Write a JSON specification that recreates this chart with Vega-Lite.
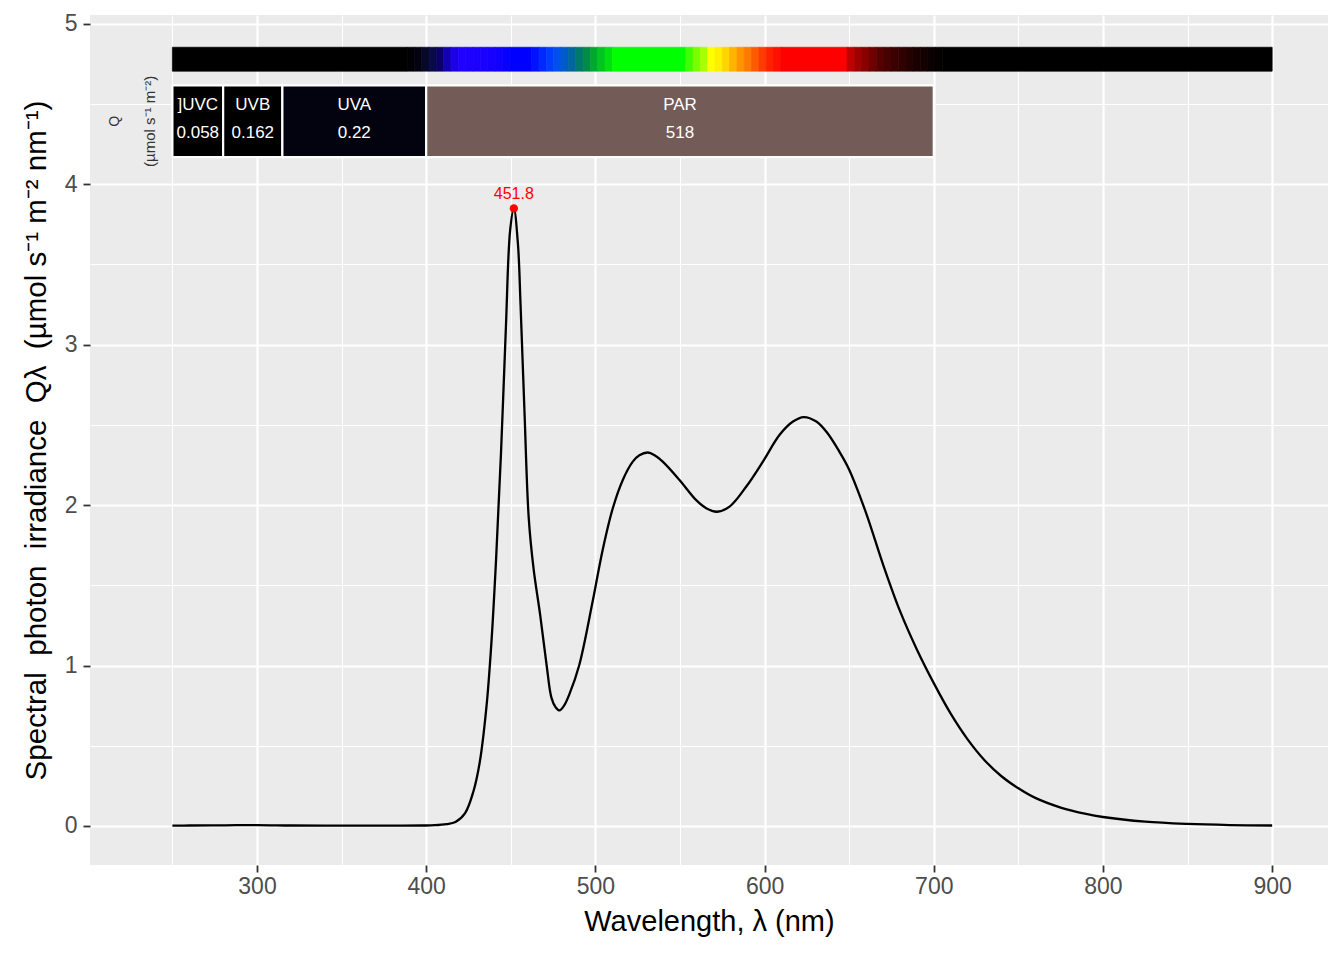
{
  "$schema": "https://vega.github.io/schema/vega-lite/v6.json",
  "width": 1238,
  "height": 850,
  "autosize": "none",
  "padding": {"left": 90, "top": 15, "right": 16, "bottom": 95},
  "background": "white",
  "view": {"fill": "#EBEBEB", "stroke": null},
  "config": {
    "font": "Liberation Sans",
    "axis": {
      "domain": false,
      "gridColor": "white",
      "labelColor": "#4D4D4D",
      "labelFontSize": 23,
      "labelFont": "Liberation Sans",
      "tickColor": "#333333",
      "tickSize": 7,
      "tickWidth": 1.8,
      "titleColor": "black",
      "titleFontWeight": "normal",
      "titleFontSize": 28,
      "titleFont": "Liberation Sans",
      "labelOverlap": false,
      "labelFlush": false
    }
  },
  "datasets": {
    "spectrum": [
      {"wl": 250, "q": 0.002}, {"wl": 260, "q": 0.003}, {"wl": 280, "q": 0.004},
      {"wl": 300, "q": 0.006}, {"wl": 320, "q": 0.003}, {"wl": 340, "q": 0.002},
      {"wl": 360, "q": 0.002}, {"wl": 380, "q": 0.002}, {"wl": 398, "q": 0.003},
      {"wl": 405, "q": 0.005}, {"wl": 412, "q": 0.012}, {"wl": 417.3, "q": 0.025},
      {"wl": 423, "q": 0.08}, {"wl": 427.9, "q": 0.215}, {"wl": 431.7, "q": 0.4},
      {"wl": 435.6, "q": 0.74}, {"wl": 438.5, "q": 1.135}, {"wl": 441.3, "q": 1.66},
      {"wl": 444.2, "q": 2.32}, {"wl": 447.1, "q": 3.105}, {"wl": 449.6, "q": 3.71},
      {"wl": 451.8, "q": 3.848}, {"wl": 454.2, "q": 3.63}, {"wl": 455.8, "q": 3.24},
      {"wl": 458.1, "q": 2.58}, {"wl": 460.6, "q": 1.92}, {"wl": 463.5, "q": 1.6},
      {"wl": 467.3, "q": 1.32}, {"wl": 471.2, "q": 1.0}, {"wl": 474, "q": 0.8},
      {"wl": 476.5, "q": 0.74}, {"wl": 478.8, "q": 0.72}, {"wl": 481.5, "q": 0.75},
      {"wl": 484.6, "q": 0.82}, {"wl": 490.4, "q": 1.0}, {"wl": 498.4, "q": 1.4},
      {"wl": 504.3, "q": 1.72}, {"wl": 510.3, "q": 1.98}, {"wl": 516.2, "q": 2.156},
      {"wl": 522.1, "q": 2.27}, {"wl": 526, "q": 2.31}, {"wl": 531, "q": 2.327},
      {"wl": 535, "q": 2.31}, {"wl": 539.8, "q": 2.27}, {"wl": 549.7, "q": 2.156},
      {"wl": 559.6, "q": 2.03}, {"wl": 565.5, "q": 1.98}, {"wl": 571.8, "q": 1.958},
      {"wl": 579.3, "q": 1.99}, {"wl": 589.2, "q": 2.115}, {"wl": 599, "q": 2.27},
      {"wl": 608.9, "q": 2.4375}, {"wl": 616.8, "q": 2.52}, {"wl": 623.1, "q": 2.548},
      {"wl": 630.6, "q": 2.52}, {"wl": 637, "q": 2.45}, {"wl": 644.1, "q": 2.334},
      {"wl": 650, "q": 2.22}, {"wl": 660, "q": 1.95}, {"wl": 670, "q": 1.63},
      {"wl": 680, "q": 1.34}, {"wl": 690, "q": 1.1}, {"wl": 700, "q": 0.89},
      {"wl": 710, "q": 0.7}, {"wl": 720, "q": 0.54}, {"wl": 730, "q": 0.41},
      {"wl": 740, "q": 0.31}, {"wl": 750, "q": 0.235}, {"wl": 760, "q": 0.175},
      {"wl": 775, "q": 0.115}, {"wl": 790, "q": 0.075}, {"wl": 800, "q": 0.056},
      {"wl": 825, "q": 0.027}, {"wl": 850, "q": 0.013}, {"wl": 875, "q": 0.006},
      {"wl": 900, "q": 0.003}
    ],
    "peak": [{"wl": 451.8, "q": 3.848, "label": "451.8"}],
    "bands": [
      {"band": "]UVC", "w1": 250, "w2": 280, "mid": 265, "Q": "0.058"},
      {"band": "UVB", "w1": 280, "w2": 315, "mid": 297.5, "Q": "0.162"},
      {"band": "UVA", "w1": 315, "w2": 400, "mid": 357.5, "Q": "0.22"},
      {"band": "PAR", "w1": 400, "w2": 700, "mid": 550, "Q": "518"}
    ],
    "colourbar": [
      {"w1": 250, "w2": 388.7}, {"w1": 388.7, "w2": 393.0}, {"w1": 393.0, "w2": 397.3},
      {"w1": 397.3, "w2": 401.7}, {"w1": 401.7, "w2": 406.0}, {"w1": 406.0, "w2": 410.3},
      {"w1": 410.3, "w2": 414.7}, {"w1": 414.7, "w2": 419.0}, {"w1": 419.0, "w2": 423.3},
      {"w1": 423.3, "w2": 427.7}, {"w1": 427.7, "w2": 432.0}, {"w1": 432.0, "w2": 436.3},
      {"w1": 436.3, "w2": 440.7}, {"w1": 440.7, "w2": 445.0}, {"w1": 445.0, "w2": 449.3},
      {"w1": 449.3, "w2": 462.3}, {"w1": 462.3, "w2": 466.7}, {"w1": 466.7, "w2": 471.0},
      {"w1": 471.0, "w2": 475.3}, {"w1": 475.3, "w2": 479.7}, {"w1": 479.7, "w2": 484.0},
      {"w1": 484.0, "w2": 488.3}, {"w1": 488.3, "w2": 492.7}, {"w1": 492.7, "w2": 497.0},
      {"w1": 497.0, "w2": 501.3}, {"w1": 501.3, "w2": 505.7}, {"w1": 505.7, "w2": 510.0},
      {"w1": 510.0, "w2": 553.3}, {"w1": 553.3, "w2": 557.7}, {"w1": 557.7, "w2": 562.0},
      {"w1": 562.0, "w2": 566.3}, {"w1": 566.3, "w2": 570.7}, {"w1": 570.7, "w2": 575.0},
      {"w1": 575.0, "w2": 579.3}, {"w1": 579.3, "w2": 583.7}, {"w1": 583.7, "w2": 588.0},
      {"w1": 588.0, "w2": 592.3}, {"w1": 592.3, "w2": 596.7}, {"w1": 596.7, "w2": 601.0},
      {"w1": 601.0, "w2": 605.3}, {"w1": 605.3, "w2": 609.7}, {"w1": 609.7, "w2": 648.7},
      {"w1": 648.7, "w2": 653.0}, {"w1": 653.0, "w2": 657.3}, {"w1": 657.3, "w2": 661.7},
      {"w1": 661.7, "w2": 666.0}, {"w1": 666.0, "w2": 670.3}, {"w1": 670.3, "w2": 674.7},
      {"w1": 674.7, "w2": 679.0}, {"w1": 679.0, "w2": 683.3}, {"w1": 683.3, "w2": 687.7},
      {"w1": 687.7, "w2": 692.0}, {"w1": 692.0, "w2": 696.3}, {"w1": 696.3, "w2": 700.7},
      {"w1": 700.7, "w2": 705.0}, {"w1": 705.0, "w2": 900}
    ]
  },
  "layer": [
    {
      "data": {"name": "spectrum"},
      "mark": {"type": "line", "color": "black", "strokeWidth": 2.3, "interpolate": "catmull-rom"},
      "encoding": {
        "x": {
          "field": "wl", "type": "quantitative",
          "scale": {"domain": [201.3, 933], "nice": false, "zero": false},
          "axis": {
            "title": "Wavelength, λ (nm)",
            "titleFontSize": 29,
            "values": [250, 300, 350, 400, 450, 500, 550, 600, 650, 700, 750, 800, 850, 900],
            "labelExpr": "datum.value % 100 === 0 ? '' + datum.value : ''",
            "gridWidth": {"condition": {"test": "datum.value % 100 === 0", "value": 2.2}, "value": 1.1},
            "tickOpacity": {"condition": {"test": "datum.value % 100 === 0", "value": 1}, "value": 0},
            "labelPadding": 3,
            "titlePadding": 9
          }
        },
        "y": {
          "field": "q", "type": "quantitative",
          "scale": {"domain": [-0.243, 5.053], "nice": false, "zero": false},
          "axis": {
            "title": "Spectral\u00a0 photon\u00a0 irradiance\u00a0 Qλ\u00a0 (µmol s⁻¹ m⁻² nm⁻¹)",
            "titleFontSize": 29.5,
            "values": [0, 0.5, 1, 1.5, 2, 2.5, 3, 3.5, 4, 4.5, 5],
            "labelExpr": "datum.value % 1 === 0 ? '' + datum.value : ''",
            "gridWidth": {"condition": {"test": "datum.value % 1 === 0", "value": 2.2}, "value": 1.1},
            "tickOpacity": {"condition": {"test": "datum.value % 1 === 0", "value": 1}, "value": 0},
            "labelPadding": 6,
            "titlePadding": 13
          }
        }
      }
    },
    {
      "data": {"name": "colourbar"},
      "mark": {"type": "rect", "strokeWidth": 0.7},
      "encoding": {
        "x": {"field": "w1", "type": "quantitative"},
        "x2": {"field": "w2"},
        "y": {"datum": 4.703, "type": "quantitative"},
        "y2": {"datum": 4.852},
        "color": {
          "field": "w1", "type": "nominal", "legend": null,
          "scale": {
            "domain": [250, 388.7, 393.0, 397.3, 401.7, 406.0, 410.3, 414.7, 419.0, 423.3, 427.7, 432.0, 436.3, 440.7, 445.0, 449.3, 462.3, 466.7, 471.0, 475.3, 479.7, 484.0, 488.3, 492.7, 497.0, 501.3, 505.7, 510.0, 553.3, 557.7, 562.0, 566.3, 570.7, 575.0, 579.3, 583.7, 588.0, 592.3, 596.7, 601.0, 605.3, 609.7, 648.7, 653.0, 657.3, 661.7, 666.0, 670.3, 674.7, 679.0, 683.3, 687.7, 692.0, 696.3, 700.7, 705.0],
            "range": ["#000000", "#010103", "#03030F", "#080828", "#0A0A48", "#0C0068", "#1400B4", "#1C00E6", "#2000FF", "#1E00FF", "#1C00FF", "#1900FF", "#1600FF", "#1200FF", "#0800FF", "#0000FF", "#0012FF", "#0028FF", "#003EFF", "#0050F0", "#005AC8", "#00669C", "#00786E", "#008C48", "#00A830", "#00C420", "#00E010", "#00FF00", "#40FF00", "#78FF00", "#AAFF00", "#FFFF00", "#FFF000", "#FFD500", "#FFB400", "#FF9400", "#FF7800", "#FF5A00", "#FF3C00", "#FF2000", "#FF1000", "#FF0000", "#C00000", "#A00000", "#880000", "#700000", "#560000", "#480000", "#3C0000", "#300000", "#260000", "#1C0000", "#140000", "#0C0000", "#060000", "#000000"]
          }
        },
        "stroke": {
          "field": "w1", "type": "nominal", "legend": null,
          "scale": {
            "domain": [250, 388.7, 393.0, 397.3, 401.7, 406.0, 410.3, 414.7, 419.0, 423.3, 427.7, 432.0, 436.3, 440.7, 445.0, 449.3, 462.3, 466.7, 471.0, 475.3, 479.7, 484.0, 488.3, 492.7, 497.0, 501.3, 505.7, 510.0, 553.3, 557.7, 562.0, 566.3, 570.7, 575.0, 579.3, 583.7, 588.0, 592.3, 596.7, 601.0, 605.3, 609.7, 648.7, 653.0, 657.3, 661.7, 666.0, 670.3, 674.7, 679.0, 683.3, 687.7, 692.0, 696.3, 700.7, 705.0],
            "range": ["#000000", "#010103", "#03030F", "#080828", "#0A0A48", "#0C0068", "#1400B4", "#1C00E6", "#2000FF", "#1E00FF", "#1C00FF", "#1900FF", "#1600FF", "#1200FF", "#0800FF", "#0000FF", "#0012FF", "#0028FF", "#003EFF", "#0050F0", "#005AC8", "#00669C", "#00786E", "#008C48", "#00A830", "#00C420", "#00E010", "#00FF00", "#40FF00", "#78FF00", "#AAFF00", "#FFFF00", "#FFF000", "#FFD500", "#FFB400", "#FF9400", "#FF7800", "#FF5A00", "#FF3C00", "#FF2000", "#FF1000", "#FF0000", "#C00000", "#A00000", "#880000", "#700000", "#560000", "#480000", "#3C0000", "#300000", "#260000", "#1C0000", "#140000", "#0C0000", "#060000", "#000000"]
          }
        }
      }
    },
    {
      "data": {"name": "bands"},
      "layer": [
        {
          "mark": {"type": "rect", "stroke": "white", "strokeWidth": 2.2},
          "encoding": {
            "x": {"field": "w1", "type": "quantitative"},
            "x2": {"field": "w2"},
            "y": {"datum": 4.167, "type": "quantitative"},
            "y2": {"datum": 4.615},
            "fill": {
              "field": "band", "type": "nominal", "legend": null,
              "scale": {"domain": ["]UVC", "UVB", "UVA", "PAR"], "range": ["#000000", "#000000", "#03030F", "#735B57"]}
            }
          }
        },
        {
          "mark": {"type": "text", "color": "white", "fontSize": 17, "baseline": "middle", "align": "center"},
          "encoding": {
            "x": {"field": "mid", "type": "quantitative"},
            "y": {"datum": 4.49, "type": "quantitative"},
            "text": {"field": "band"}
          }
        },
        {
          "mark": {"type": "text", "color": "white", "fontSize": 17, "baseline": "middle", "align": "center"},
          "encoding": {
            "x": {"field": "mid", "type": "quantitative"},
            "y": {"datum": 4.316, "type": "quantitative"},
            "text": {"field": "Q"}
          }
        }
      ]
    },
    {
      "data": {"values": [{}]},
      "mark": {"type": "text", "text": "Q", "angle": 270, "fontSize": 14, "color": "#333333", "baseline": "middle", "align": "center"},
      "encoding": {
        "x": {"datum": 216.2, "type": "quantitative"},
        "y": {"datum": 4.39, "type": "quantitative"}
      }
    },
    {
      "data": {"values": [{}]},
      "mark": {"type": "text", "text": "(µmol s⁻¹ m⁻²)", "angle": 270, "fontSize": 15, "color": "#333333", "baseline": "middle", "align": "center"},
      "encoding": {
        "x": {"datum": 236.9, "type": "quantitative"},
        "y": {"datum": 4.39, "type": "quantitative"}
      }
    },
    {
      "data": {"name": "peak"},
      "layer": [
        {
          "mark": {"type": "point", "filled": true, "color": "red", "size": 70, "opacity": 1},
          "encoding": {
            "x": {"field": "wl", "type": "quantitative"},
            "y": {"field": "q", "type": "quantitative"}
          }
        },
        {
          "mark": {"type": "text", "color": "red", "fontSize": 16, "baseline": "bottom", "align": "center", "dy": -6},
          "encoding": {
            "x": {"field": "wl", "type": "quantitative"},
            "y": {"field": "q", "type": "quantitative"},
            "text": {"field": "label"}
          }
        }
      ]
    }
  ],
  "resolve": {"scale": {"color": "independent", "stroke": "independent", "fill": "independent"}}
}
